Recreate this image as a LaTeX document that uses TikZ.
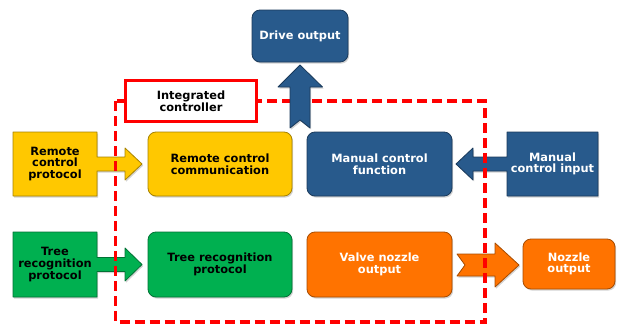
\documentclass[tikz,border=0pt]{standalone}
\usepackage{fontspec}
\setmainfont{DejaVu Sans}
\usetikzlibrary{shadows}
\definecolor{yel}{HTML}{FFC800}
\definecolor{blu}{HTML}{285A8C}
\definecolor{grn}{HTML}{00B050}
\definecolor{org}{HTML}{FF7300}
\definecolor{redline}{HTML}{FF0000}
\begin{document}
\begin{tikzpicture}[x=1pt,y=-1pt,
  txt/.style={font=\fontsize{11.4}{11.6}\selectfont\bfseries, align=center, inner sep=0pt},
  shade3d/.style={drop shadow={shadow xshift=1.2pt,shadow yshift=-1.6pt,opacity=0.35}},
  shapefill/.style={draw=#1!65!black, fill=#1, line width=0.8pt, line join=round, shade3d},
  rbox/.style={shapefill=#1, rounded corners=8pt, txt},
  reddash/.style={draw=redline, line width=3.4pt, dash pattern=on 10pt off 5pt},
]
\useasboundingbox (0,0) rectangle (619,324);

% ---- rounded function blocks ----
\node[rbox=blu, text=white, minimum width=96pt, minimum height=52pt] (drive) at (300,36) {Drive output};
\node[rbox=yel, text=black, minimum width=144pt, minimum height=64pt] (rcc) at (220,164) {Remote control\\communication};
\node[rbox=blu, text=white, minimum width=145pt, minimum height=64pt] (mcf) at (379.5,164) {Manual control\\function};
\node[rbox=grn, text=black, minimum width=144pt, minimum height=65pt] (trp) at (220,264.5) {Tree recognition\\protocol};
\node[rbox=org, text=white, minimum width=145pt, minimum height=65pt] (vno) at (379.5,264.5) {Valve nozzle\\output};
\node[rbox=org, text=white, minimum width=92pt, minimum height=50pt] (noz) at (569,264) {Nozzle\\output};

% ---- input blocks with attached block arrows ----
\path[shapefill=yel] (13,132) -- (97,132) -- (97,157) -- (125,157) -- (125,148) -- (142,164)
  -- (125,180) -- (125,171) -- (97,171) -- (97,196) -- (13,196) -- cycle;
\node[txt] (rcp) at (55,164) {Remote\\control\\protocol};

\path[shapefill=grn] (13,232) -- (97,232) -- (97,257.5) -- (125,257.5) -- (125,248) -- (142,264.5)
  -- (125,281) -- (125,271.5) -- (97,271.5) -- (97,297) -- (13,297) -- cycle;
\node[txt] (trin) at (55,264.5) {Tree\\recognition\\protocol};

\path[shapefill=blu] (598,132) -- (507,132) -- (507,157) -- (473,157) -- (473,148) -- (456,164)
  -- (473,180) -- (473,171) -- (507,171) -- (507,196) -- (598,196) -- cycle;
\node[txt, text=white] (mci) at (552.5,164) {Manual\\control input};

% ---- notched arrow towards the nozzle ----
\path[shapefill=org] (457,254) -- (495,254) -- (495,243) -- (519,265) -- (495,287)
  -- (495,276) -- (457,276) -- (465,265) -- cycle;

% ---- boundary of the integrated controller ----
\coordinate (tl) at (115.5,101);
\coordinate (bl) at (115.5,322);
\coordinate (br) at (485,322);
\coordinate (tr) at (485,101);
\draw[reddash] (tl) -- (bl) -- (br) -- (tr) -- (tl);

% ---- notched arrow up to the drive output ----
\path[shapefill=blu] (300,65) -- (322.5,87) -- (310,87) -- (310,128) -- (300,120)
  -- (290,128) -- (290,87) -- (278,87) -- cycle;

\node[draw=redline, fill=white, line width=3pt, minimum width=131pt, minimum height=41pt, txt]
  (ic) at (191,101) {Integrated\\controller};
\end{tikzpicture}
\end{document}
